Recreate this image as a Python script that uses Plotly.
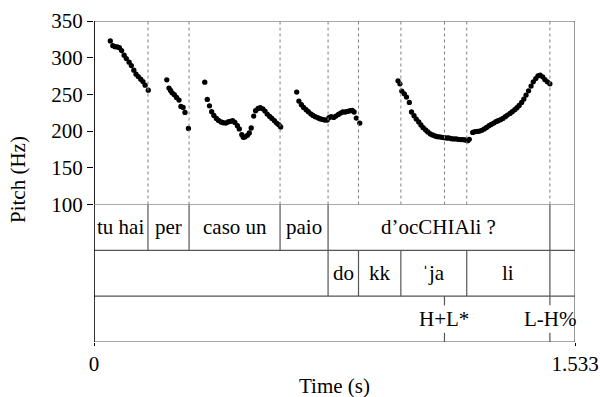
import plotly.graph_objects as go

# ---- data ----
t_seg1 = [0.052, 0.060, 0.067, 0.074, 0.081, 0.088, 0.096, 0.103, 0.112, 0.119, 0.127, 0.134, 0.141, 0.149, 0.156, 0.163, 0.173]
f_seg1 = [322.8, 316.4, 315.0, 314.7, 313.7, 309.7, 303.4, 298.8, 293.9, 289.3, 283.0, 277.6, 274.3, 270.8, 267.5, 262.6, 255.8]

t_seg2 = [0.232, 0.239, 0.244, 0.249, 0.256, 0.263, 0.271, 0.277, 0.284, 0.290, 0.301]
f_seg2 = [269.8, 258.6, 255.3, 252.2, 249.5, 245.8, 242.3, 233.6, 232.2, 225.4, 203.7]

t_seg3 = [0.353, 0.361, 0.368, 0.375, 0.382, 0.390, 0.397, 0.405, 0.412, 0.420, 0.427, 0.434, 0.442, 0.449,
          0.457, 0.463, 0.471, 0.476, 0.481, 0.489, 0.495, 0.501, 0.509, 0.515, 0.523, 0.530, 0.538, 0.545,
          0.552, 0.560, 0.567, 0.575, 0.582, 0.589, 0.595]
f_seg3 = [266.7, 243.1, 234.5, 226.4, 221.3, 217.3, 214.5, 212.4, 211.4, 211.0, 212.4, 213.2, 214.1, 211.8,
          207.3, 202.9, 195.1, 191.5, 192.0, 194.2, 197.4, 204.2, 220.5, 227.7, 230.8, 231.8, 230.4, 227.3,
          223.2, 220.0, 217.3, 214.1, 211.0, 208.7, 205.6]

t_seg4 = [0.646, 0.653, 0.661, 0.668, 0.676, 0.683, 0.691, 0.698, 0.705, 0.713, 0.720, 0.728, 0.735, 0.743,
          0.749, 0.756, 0.764, 0.771, 0.779, 0.786, 0.793, 0.801, 0.808, 0.816, 0.823, 0.829, 0.836, 0.847]
f_seg4 = [253.1, 240.9, 235.9, 232.2, 229.1, 226.4, 223.6, 221.3, 219.6, 218.2, 216.8, 215.9, 215.1, 215.1,
          218.2, 219.6, 218.6, 220.5, 222.7, 224.6, 226.0, 226.0, 226.8, 227.7, 228.1, 226.0, 217.8, 211.0]

t_seg5 = [0.969, 0.975, 0.981, 0.989, 0.996, 1.005, 1.012, 1.020, 1.027, 1.035, 1.042, 1.049, 1.057, 1.064,
          1.072, 1.079, 1.087, 1.094, 1.102, 1.109, 1.116, 1.124, 1.131, 1.139, 1.146, 1.154, 1.161, 1.169,
          1.176, 1.183, 1.191, 1.196]
f_seg5 = [268.5, 264.4, 254.5, 250.8, 246.3, 239.0, 226.0, 220.9, 216.4, 212.4, 208.3, 204.6, 201.5, 198.8,
          196.1, 194.7, 193.3, 192.4, 192.0, 191.5, 191.0, 190.6, 190.6, 189.7, 189.3, 189.3, 188.8, 188.4,
          188.4, 187.9, 187.0, 188.8]

t_seg6 = [1.207, 1.214, 1.222, 1.229, 1.236, 1.244, 1.251, 1.259, 1.266, 1.274, 1.281, 1.288, 1.296, 1.303,
          1.311, 1.318, 1.326, 1.333, 1.341, 1.348, 1.355, 1.363, 1.370, 1.377, 1.385, 1.393, 1.400, 1.408,
          1.415, 1.422, 1.430, 1.437, 1.445, 1.453]
f_seg6 = [198.2, 199.2, 199.6, 200.1, 201.0, 202.9, 205.0, 207.3, 209.1, 211.0, 212.8, 214.1, 215.5, 217.3,
          219.6, 221.9, 224.1, 226.4, 229.1, 231.8, 234.9, 239.0, 243.6, 249.1, 254.9, 261.3, 267.1, 271.6,
          275.3, 276.2, 273.9, 270.2, 267.1, 264.4]

t_end = 1.533

tier1_bounds = [0.0, 0.172, 0.303, 0.593, 0.746, 1.453, 1.533]
tier1_labels = ["tu hai", "per", "caso un", "paio", "d\u2019ocCHIAli ?", ""]

tier2_bounds = [0.0, 0.746, 0.843, 0.978, 1.188, 1.453, 1.533]
tier2_labels = ["", "do", "kk", "\u02c8ja", "li", ""]

tier3_points = [1.117, 1.453]
tier3_labels = ["H+L*", "L-H%"]

y_ticks = [100, 150, 200, 250, 300, 350]

# ---- figure ----
FONT = "Liberation Serif, Times New Roman, serif"
FS = 21
LINE = "#555555"

ML, MR, MT, MB = 94, 25, 21, 55
W, H = 600, 397
plot_w = W - ML - MR
plot_h = H - MT - MB

t_all = t_seg1 + t_seg2 + t_seg3 + t_seg4 + t_seg5 + t_seg6
f_all = f_seg1 + f_seg2 + f_seg3 + f_seg4 + f_seg5 + f_seg6

fig = go.Figure()
fig.add_trace(go.Scatter(x=t_all, y=f_all, mode="markers",
                         marker=dict(color="black", size=5.3, line=dict(width=0)),
                         xaxis="x", yaxis="y", showlegend=False, hoverinfo="skip"))

split = (H - MB - 204.5) / plot_h
fig.update_layout(
    width=W, height=H,
    margin=dict(l=ML, r=MR, t=MT, b=MB, autoexpand=False),
    paper_bgcolor="white", plot_bgcolor="white",
    font=dict(family=FONT, size=FS, color="black"),
    xaxis=dict(domain=[0, 1], range=[0, t_end], anchor="y2", automargin=False,
               showgrid=False, zeroline=False, showline=False,
               tickvals=[0, t_end], ticktext=["0", "1.533"],
               ticks="outside", ticklen=3, tickcolor="black", tickwidth=1,
               tickfont=dict(family=FONT, size=FS)),
    yaxis=dict(domain=[split, 1], range=[100, 350], anchor="x", automargin=False,
               showgrid=False, zeroline=False, showline=False,
               tickvals=y_ticks, ticks="outside", ticklen=6, tickcolor="black",
               tickfont=dict(family=FONT, size=FS)),
    yaxis2=dict(domain=[0, split], range=[0, 3], anchor="x", visible=False, automargin=False),
)

shapes = []
# pitch frame
shapes.append(dict(type="rect", xref="x", yref="y", x0=0, x1=t_end, y0=100, y1=350,
                   line=dict(color=LINE, width=1.2)))
# tier horizontal lines
for yy in [0, 1, 2]:
    shapes.append(dict(type="line", xref="x", yref="y2", x0=0, x1=t_end, y0=yy, y1=yy,
                       line=dict(color=LINE, width=1.2)))
# right border of tiers
shapes.append(dict(type="line", xref="x", yref="y2", x0=t_end, x1=t_end, y0=-0.07, y1=3,
                   line=dict(color=LINE, width=1.2)))
# left axis line (black)
shapes.append(dict(type="line", xref="x", yref="y2", x0=0, x1=0, y0=-0.07, y1=3,
                   line=dict(color="black", width=1.6)))
shapes.append(dict(type="line", xref="x", yref="y", x0=0, x1=0, y0=100, y1=350,
                   line=dict(color="black", width=1.6)))
# tier 1 boundaries
for b in tier1_bounds[1:-1]:
    shapes.append(dict(type="line", xref="x", yref="y2", x0=b, x1=b, y0=2, y1=3,
                       line=dict(color=LINE, width=1.2)))
# tier 2 boundaries
for b in tier2_bounds[1:-1]:
    shapes.append(dict(type="line", xref="x", yref="y2", x0=b, x1=b, y0=1, y1=2,
                       line=dict(color=LINE, width=1.2)))
# tier 3 point ticks
for p in tier3_points:
    shapes.append(dict(type="line", xref="x", yref="y2", x0=p, x1=p, y0=0.8, y1=1,
                       line=dict(color=LINE, width=1.2)))
    shapes.append(dict(type="line", xref="x", yref="y2", x0=p, x1=p, y0=0, y1=0.2,
                       line=dict(color=LINE, width=1.2)))
# dotted lines in pitch area
dotted = sorted(set(tier1_bounds[1:-1] + tier2_bounds[1:-1] + tier3_points))
for b in dotted:
    shapes.append(dict(type="line", xref="x", yref="y", x0=b, x1=b, y0=100, y1=350,
                       line=dict(color="#808080", width=1, dash="dot")))
fig.update_layout(shapes=shapes)

ann = []
for i, lab in enumerate(tier1_labels):
    if lab:
        ann.append(dict(x=(tier1_bounds[i] + tier1_bounds[i + 1]) / 2, y=2.5, xref="x", yref="y2",
                        text=lab, showarrow=False, font=dict(family=FONT, size=FS)))
for i, lab in enumerate(tier2_labels):
    if lab:
        ann.append(dict(x=(tier2_bounds[i] + tier2_bounds[i + 1]) / 2, y=1.5, xref="x", yref="y2",
                        text=lab, showarrow=False, font=dict(family=FONT, size=FS)))
for p, lab in zip(tier3_points, tier3_labels):
    ann.append(dict(x=p, y=0.5, xref="x", yref="y2", text=lab, showarrow=False,
                    font=dict(family=FONT, size=FS)))
# axis titles
ann.append(dict(x=0.5, y=-(372 - (H - MB)) / plot_h, xref="paper", yref="paper",
                text="Time (s)", showarrow=False, xanchor="center", yanchor="top",
                font=dict(family=FONT, size=FS)))
ann.append(dict(x=(18 - ML) / plot_w, y=(H - MB - 180) / plot_h, xref="paper", yref="paper",
                text="Pitch (Hz)", showarrow=False, textangle=-90,
                xanchor="center", yanchor="middle", font=dict(family=FONT, size=FS)))
fig.update_layout(annotations=ann)

fig.write_html("out.html")
